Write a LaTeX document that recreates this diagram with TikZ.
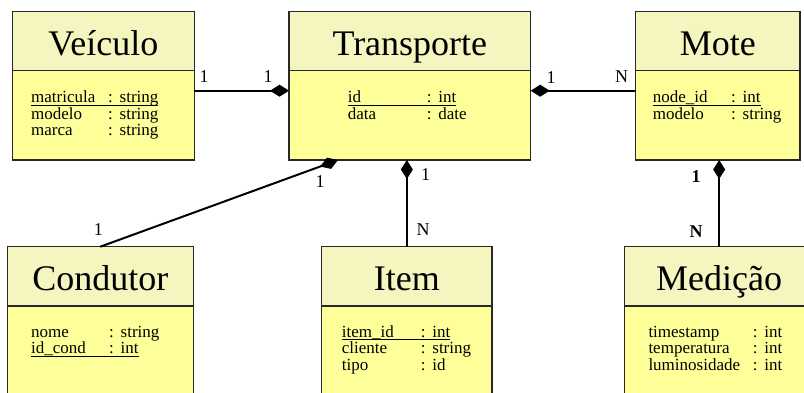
\documentclass[tikz,border=0pt]{standalone}
\usepackage{fontspec}
\setmainfont{Liberation Serif}
\usetikzlibrary{arrows.meta}

\definecolor{hdrfill}{RGB}{245,245,192}
\definecolor{bodyfill}{RGB}{255,255,153}
\definecolor{edgecol}{RGB}{40,40,40}

% one attribute row: name column, colon column, type
\newcommand\attrrow[3]{\makebox[#1][l]{#2}\makebox[11.5pt][l]{:}#3}
% key attribute row, underlined across the whole row
\newcommand\keyrow[3]{\setbox0\hbox{\attrrow{#1}{#2}{#3}}\rlap{\rule[-2.8pt]{\wd0}{0.8pt}}\box0}

\begin{document}
\begin{tikzpicture}[x=1pt,y=-1pt,
  hdr/.style={draw=edgecol, line width=1.2pt, fill=hdrfill, anchor=north west,
    inner sep=0pt, outer sep=0pt, minimum height=59pt,
    font=\fontsize{36}{36}\selectfont, text height=28pt, text depth=0pt},
  bodybox/.style={draw=edgecol, line width=1.2pt, fill=bodyfill, anchor=north west,
    inner sep=0pt, outer sep=0pt},
  attrs/.style={anchor=base west, inner sep=0pt, font=\fontsize{17}{16.3}\selectfont},
  mult/.style={inner sep=0pt, font=\fontsize{18}{18}\selectfont},
  multb/.style={mult, font=\fontsize{18}{18}\selectfont\bfseries},
  conn/.style={line width=2pt, draw=black},
  agg/.style={conn, {Diamond[length=19pt,width=12pt]}-}]

\useasboundingbox (0,0) rectangle (804,392);
\clip (0,0) rectangle (804,392);

% ---- classes ----
% Veiculo
\node[bodybox, minimum width=182pt, minimum height=89.3pt] (vb) at (12.3,70.7) {};
\node[hdr, minimum width=182pt] (vh) at (12.3,11.7) {Veículo};
\node[attrs] (va) at (31,102.7) {\begin{tabular}[t]{@{}l@{}}
  \keyrow{77pt}{matricula}{string}\\
  \attrrow{77pt}{modelo}{string}\\
  \attrrow{77pt}{marca}{string}
\end{tabular}};

% Transporte
\node[bodybox, minimum width=241.7pt, minimum height=89.3pt] (tb) at (289,70.7) {};
\node[hdr, minimum width=241.7pt] (th) at (289,11.7) {Transporte};
\node[attrs] (ta) at (347.7,102.7) {\begin{tabular}[t]{@{}l@{}}
  \keyrow{79pt}{id}{int}\\
  \attrrow{79pt}{data}{date}
\end{tabular}};

% Mote
\node[bodybox, minimum width=164.3pt, minimum height=89.3pt] (mb) at (635.7,70.7) {};
\node[hdr, minimum width=164.3pt] (mh) at (635.7,11.7) {Mote};
\node[attrs] (ma) at (652.7,102.7) {\begin{tabular}[t]{@{}l@{}}
  \keyrow{78.3pt}{node\_id}{int}\\
  \attrrow{78.3pt}{modelo}{string}
\end{tabular}};

% Condutor
\node[bodybox, minimum width=186pt, minimum height=100pt] (cb) at (7.3,306) {};
\node[hdr, minimum width=186pt, minimum height=59.3pt] (ch) at (7.3,246.7) {Condutor};
\node[attrs] (ca) at (31,337.3) {\begin{tabular}[t]{@{}l@{}}
  \attrrow{78pt}{nome}{string}\\
  \keyrow{78pt}{id\_cond}{int}
\end{tabular}};

% Item
\node[bodybox, minimum width=170.3pt, minimum height=100pt] (ib) at (321.7,306) {};
\node[hdr, minimum width=170.3pt, minimum height=59.3pt] (ih) at (321.7,246.7) {Item};
\node[attrs] (ia) at (341.7,337.3) {\begin{tabular}[t]{@{}l@{}}
  \keyrow{79pt}{item\_id}{int}\\
  \attrrow{79pt}{cliente}{string}\\
  \attrrow{79pt}{tipo}{id}
\end{tabular}};

% Medicao
\node[bodybox, minimum width=189.7pt, minimum height=100pt] (eb) at (624.3,306) {};
\node[hdr, minimum width=189.7pt, minimum height=59.3pt] (eh) at (624.3,246.7) {Medição};
\node[attrs] (ea) at (648.3,337.3) {\begin{tabular}[t]{@{}l@{}}
  \attrrow{104.4pt}{timestamp}{int}\\
  \attrrow{104.4pt}{temperatura}{int}\\
  \attrrow{104.4pt}{luminosidade}{int}
\end{tabular}};

% ---- associations ----
\draw[agg] ([yshift=24.65pt]tb.west) -- ([yshift=24.65pt]vb.east);
\draw[agg] ([yshift=24.65pt]tb.east) -- ([yshift=24.65pt]mb.west);
\draw[agg] ([xshift=49pt]tb.south west) -- (ch.north);
\draw[agg] (ih.north |- tb.south) -- (ih.north);
\draw[agg] (eh.north |- mb.south) -- (eh.north);

% ---- multiplicities ----
\node[mult] (m1) at (204,77) {1};
\node[mult] (m2) at (268,77) {1};
\node[mult] (m3) at (551,78) {1};
\node[mult] (m4) at (621.5,77) {N};
\node[mult] (m5) at (98.3,229.5) {1};
\node[mult] (m6) at (320,181.5) {1};
\node[mult] (m7) at (425.5,175) {1};
\node[mult] (m8) at (423,230) {N};
\node[multb] (m9) at (696,176.5) {1};
\node[multb] (m10) at (696,231.5) {N};
\end{tikzpicture}
\end{document}
